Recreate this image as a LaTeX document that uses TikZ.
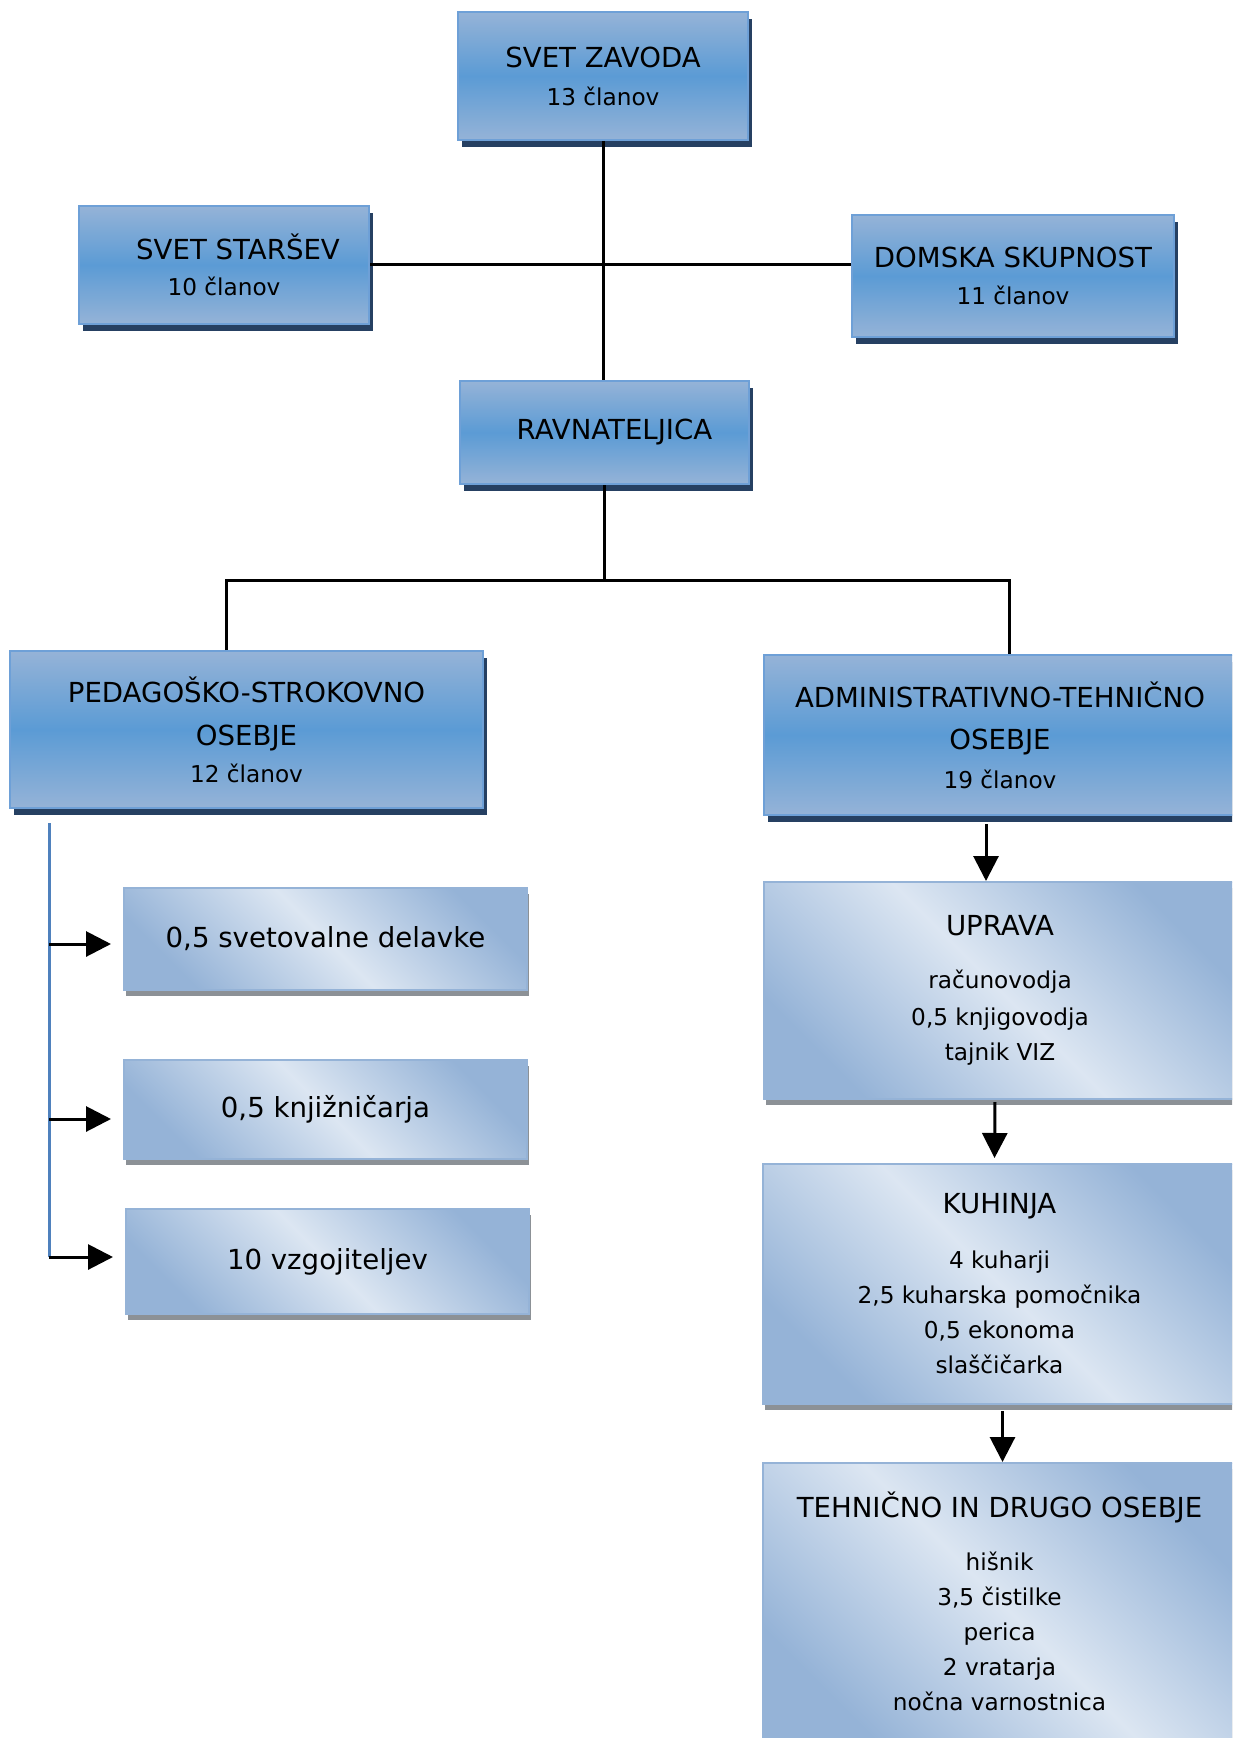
\documentclass[tikz,border=0pt]{standalone}
\usepackage{fontspec}
\setmainfont{DejaVu Sans}
\usetikzlibrary{shadows,arrows.meta,positioning}

\definecolor{paleblue}{RGB}{220,230,242}
\definecolor{softblue}{RGB}{149,179,215}
\definecolor{midblue}{RGB}{91,155,213}
\definecolor{edgeblue}{RGB}{110,160,215}
\definecolor{navyshade}{RGB}{38,64,98}
\definecolor{greyshade}{RGB}{140,145,150}
\definecolor{stemblue}{RGB}{79,129,189}

\newcommand{\hdfont}{\fontsize{13.8}{14.5}\selectfont}
\newcommand{\smfont}{\fontsize{11.6}{14.5}\selectfont}

\tikzset{
  darkbox/.style={draw=edgeblue, line width=1pt, top color=softblue, bottom color=softblue,
    middle color=midblue, drop shadow={shadow xshift=2pt, shadow yshift=-3.5pt, fill=navyshade, opacity=1},
    inner sep=0pt, align=center, font=\hdfont},
  lightbox/.style={draw=softblue, line width=1pt, top color=softblue, bottom color=softblue,
    middle color=paleblue, shading angle=-45, drop shadow={shadow xshift=1pt, shadow yshift=-3pt, fill=greyshade, opacity=1},
    inner sep=0pt, align=center, font=\hdfont},
  link/.style={line width=1.5pt},
  arr/.style={line width=1.5pt, -{Triangle[length=12.5pt,width=12.5pt]}}
}

\begin{document}
\begin{tikzpicture}[x=0.5pt,y=-0.5pt]
  \useasboundingbox (0,0) rectangle (1232,1738);
  \clip (0,0) rectangle (1232,1738);
  \fill[white] (0,0) rectangle (1232,1738);

  % upper part
  \node[darkbox, minimum width=145pt, minimum height=64pt] (zavod) at (603,76)
    {SVET ZAVODA\\[4.5pt]{\smfont 13 članov}};
  \node[darkbox, minimum width=145pt, minimum height=59pt] (starsev) at (224,265)
    {\hspace*{14pt}SVET STARŠEV\\[3.5pt]{\smfont 10 članov}};
  \node[darkbox, minimum width=161pt, minimum height=61pt] (domska) at (1013,276)
    {DOMSKA SKUPNOST\\[4pt]{\smfont 11 članov}};
  \node[darkbox, minimum width=144.5pt, minimum height=51.5pt] (ravn) at (604.5,432.5)
    {\hspace*{10pt}RAVNATELJICA};

  \draw[link] (zavod.south) -- (zavod.south |- ravn.north);
  \draw[link] (starsev.east) -- (starsev.east -| domska.west);

  % two branches
  \node[darkbox, minimum width=236.5pt, minimum height=78.5pt] (pedag) at (246.5,729.5)
    {PEDAGOŠKO-STROKOVNO\\[7pt]OSEBJE\\[4pt]{\smfont 12 članov}};
  \node[darkbox, minimum width=236pt, minimum height=80pt] (adm) at (1000,735)
    {ADMINISTRATIVNO-TEHNIČNO\\[6.5pt]OSEBJE\\[5pt]{\smfont 19 članov}};

  \coordinate (barL) at (226,580);
  \coordinate (barR) at (1009,580);
  \draw[link] (ravn) -- (ravn |- barL);
  \draw[link] (pedag.north -| barL) -- (barL) -- (barR) -- (adm.north -| barR);

  % left column
  \node[lightbox, minimum width=201.5pt, minimum height=51pt] (sv) at (325.5,939) {0,5 svetovalne delavke};
  \node[lightbox, minimum width=201.5pt, minimum height=49.5pt] (knj) at (325.5,1109.5) {0,5 knjižničarja};
  \node[lightbox, minimum width=201.5pt, minimum height=52.5pt] (vzg) at (327.5,1261.5) {10 vzgojiteljev};

  \coordinate (stemTop) at (49,823);
  \coordinate (stemEnd) at (49,1257);
  \draw[stemblue, line width=1.5pt] (stemTop) -- (stemEnd);
  \foreach \b/\s in {sv/-2.5pt,knj/-4.75pt,vzg/2.25pt}
    \draw[arr, shorten >=6pt] ([yshift=\s]stemTop |- \b.west) -- ([yshift=\s]\b.west);

  % right column
  \node[lightbox, minimum width=236pt, minimum height=108.5pt] (uprava) at (1000,990.5)
    {UPRAVA\\[12pt]{\smfont računovodja}\\[4pt]{\smfont 0,5 knjigovodja}\\[3pt]{\smfont tajnik VIZ}};
  \node[lightbox, minimum width=236.5pt, minimum height=120pt] (kuhinja) at (999.5,1284)
    {KUHINJA\\[13pt]{\smfont 4 kuharji}\\[3pt]{\smfont 2,5 kuharska pomočnika}\\[3pt]{\smfont 0,5 ekonoma}\\[3pt]{\smfont slaščičarka}};
  \node[lightbox, minimum width=236.5pt, minimum height=138pt] (teh) at (999.5,1601) {};
  \node[below=14.5pt of teh.north, inner sep=0pt, align=center, font=\hdfont] (tehlist)
    {TEHNIČNO IN DRUGO OSEBJE\\[12pt]{\smfont hišnik}\\[3pt]{\smfont 3,5 čistilke}\\[3pt]{\smfont perica}\\[3pt]{\smfont 2 vratarja}\\[3pt]{\smfont nočna varnostnica}};

  \draw[arr, shorten <=4pt] ([xshift=-7pt]adm.south) -- ([xshift=-7pt]uprava.north);
  \draw[arr, shorten <=1pt, shorten >=2.5pt] ([xshift=-2.5pt]uprava.south) -- ([xshift=-2.5pt]kuhinja.north);
  \draw[arr, shorten <=3pt] ([xshift=1.5pt]kuhinja.south) -- ([xshift=1.5pt]teh.north);
\end{tikzpicture}
\end{document}
